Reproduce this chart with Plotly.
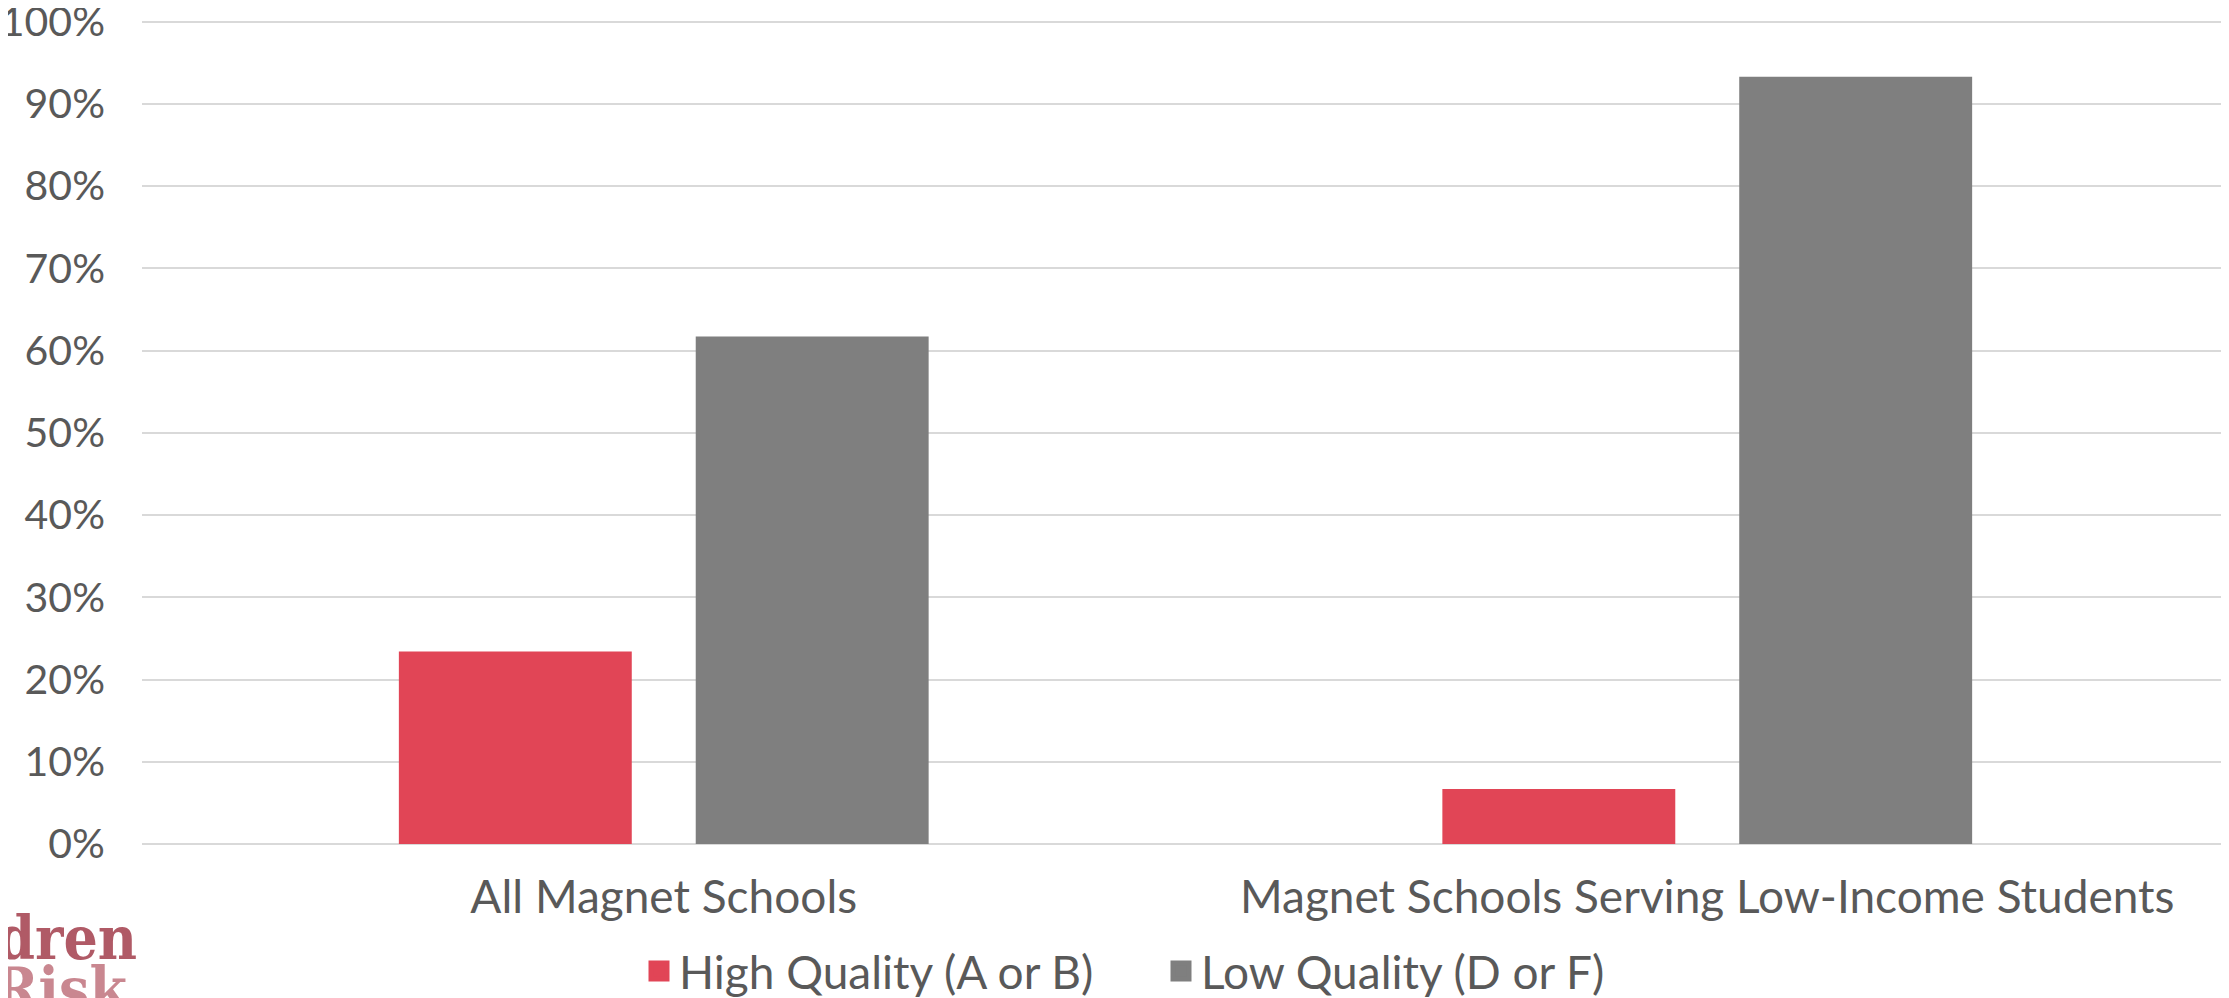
import plotly.graph_objects as go

categories = ["All Magnet Schools", "Magnet Schools Serving Low-Income Students"]
series_names = ["High Quality (A or B)", "Low Quality (D or F)"]
high_quality = [0.234, 0.067]
low_quality = [0.617, 0.933]
y_ticks = [0, 0.1, 0.2, 0.3, 0.4, 0.5, 0.6, 0.7, 0.8, 0.9, 1.0]

RED = "#E14556"
GRAY = "#7F7F7F"
TEXT = "#595959"
GRID = "#D9D9D9"
FONT = "Lato, 'Open Sans', sans-serif"
FS_CAT = 46
FS_Y = 41

bar_w = 0.2232
gap = 0.0613
colors = [RED, GRAY]
values = [high_quality, low_quality]
offsets = [-(bar_w + gap / 2), gap / 2]

PLOT_H = 824
PLOT_W = 2087

fig = go.Figure()
for name, vals, col, off in zip(series_names, values, colors, offsets):
    fig.add_trace(go.Bar(
        x=categories, y=vals, name=name, showlegend=False,
        marker=dict(color=col, line=dict(width=0)),
        width=bar_w, offset=off,
    ))
# legend entries with larger square swatches
for name, col in zip(series_names, colors):
    fig.add_trace(go.Scatter(
        x=[None], y=[None], name=name, mode="markers",
        marker=dict(symbol="square", size=16, color=col,
                    line=dict(color=col, width=5)),
    ))

# the page body adds an 8px offset, so margins are compensated
fig.update_layout(
    width=2229, height=998,
    margin=dict(l=134, r=8, t=12, b=162, autoexpand=False),
    paper_bgcolor="white", plot_bgcolor="white",
    font=dict(family=FONT, size=FS_CAT, color=TEXT),
    barmode="group",
    showlegend=True,
    legend=dict(
        orientation="h", x=(639 - 142) / PLOT_W, xanchor="left",
        y=-127 / PLOT_H, yanchor="middle",
        font=dict(family=FONT, size=FS_CAT, color=TEXT),
        bgcolor="rgba(0,0,0,0)",
        traceorder="normal",
        entrywidth=477, entrywidthmode="pixels",
    ),
)
fig.update_xaxes(
    type="category", showgrid=False, showline=False, zeroline=False,
    ticks="", ticklabelstandoff=22, automargin=False,
    tickfont=dict(family=FONT, size=FS_CAT, color=TEXT),
    range=[-0.5, 1.5],
)
fig.update_yaxes(
    range=[0, 1.002], tickvals=y_ticks, tickformat=".0%",
    showgrid=True, gridcolor=GRID, gridwidth=2,
    zeroline=True, zerolinecolor=GRID, zerolinewidth=2,
    showline=False, ticks="", ticklabelstandoff=36, automargin=False,
    ticklabeloverflow="allow",
    tickfont=dict(family=FONT, size=FS_Y, color=TEXT),
)

# Partially visible logo at the lower-left corner
LOGO_FONT = "'DejaVu Serif Condensed', 'DejaVu Serif', serif"
fig.add_annotation(
    text="<b>Children</b>", xref="paper", yref="paper",
    x=(139 - 142) / PLOT_W, y=-94 / PLOT_H,
    xanchor="right", yanchor="middle", showarrow=False,
    font=dict(family=LOGO_FONT, size=60, color="#B05A66"),
)
fig.add_annotation(
    text="<b>at Risk</b>", xref="paper", yref="paper",
    x=(130 - 142) / PLOT_W, y=-145 / PLOT_H,
    xanchor="right", yanchor="middle", showarrow=False,
    font=dict(family=LOGO_FONT, size=60, color="#C98790"),
)

fig.write_html("out.html")
